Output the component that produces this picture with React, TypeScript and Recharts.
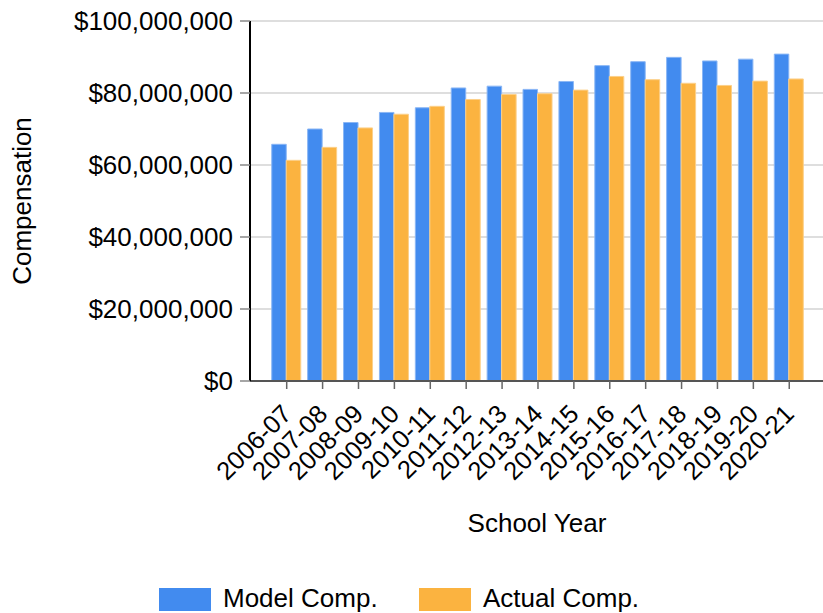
import { BarChart, Bar, XAxis, YAxis, CartesianGrid, Legend, Label } from "recharts"

const years = [
  "2006-07", "2007-08", "2008-09", "2009-10", "2010-11", "2011-12", "2012-13", "2013-14",
  "2014-15", "2015-16", "2016-17", "2017-18", "2018-19", "2019-20", "2020-21",
]
const modelComp = [
  65750000, 70000000, 71800000, 74600000, 75900000, 81400000, 81900000, 81000000,
  83200000, 87600000, 88700000, 89900000, 88900000, 89400000, 90800000,
]
const actualComp = [
  61300000, 64900000, 70300000, 74100000, 76300000, 78200000, 79600000, 79800000,
  80800000, 84600000, 83700000, 82700000, 82100000, 83300000, 83900000,
]
const seriesNames = ["Model Comp.", "Actual Comp."]
const yTicks = [0, 20000000, 40000000, 60000000, 80000000, 100000000]

const data = years.map((year, i) => ({ year, model: modelComp[i], actual: actualComp[i] }))

const FONT = "'Liberation Sans', Arial, sans-serif"
const BLUE = "#428bef"
const ORANGE = "#fbb340"

const money = (v: number) => "$" + v.toLocaleString("en-US")

function XTick({ x, payload }: any) {
  return (
    <text
      transform={`translate(${x},409) rotate(-45)`}
      textAnchor="end"
      dy="0.355em"
      fontSize={25.5}
      fontFamily={FONT}
      fill="#000"
    >
      {payload.value}
    </text>
  )
}

function LegendBox({ payload }: any) {
  const xs = [159, 419]
  // keep series order (recharts sorts legend items by name)
  const items = seriesNames.map((n) => (payload || []).find((p: any) => p.value === n)).filter(Boolean)
  return (
    <svg width={823} height={40} style={{ display: "block" }}>
      {items.map((p: any, i: number) => (
        <g key={p.value}>
          <rect x={xs[i]} y={15} width={52} height={23} fill={p.color} />
          <text x={xs[i] + 64} y={34} fontSize={26} fontFamily={FONT} fill="#000">
            {p.value}
          </text>
        </g>
      ))}
    </svg>
  )
}

export default function App() {
  return (
    <div style={{ width: 823, height: 613 }}>
      <style>{"body{margin:0}"}</style>
      <BarChart
        width={823}
        height={613}
        data={data}
        margin={{ top: 21, right: 0, left: 0, bottom: 0 }}
        barGap={0}
        barSize={14.5}
      >
        <CartesianGrid vertical={false} stroke="#dedede" strokeWidth={2} />
        <XAxis
          dataKey="year"
          interval={0}
          height={192}
          padding={{ left: 18.75, right: 15.8 }}
          tick={<XTick />}
          tickSize={8}
          axisLine={{ stroke: "#555", strokeWidth: 2 }}
          tickLine={{ stroke: "#666", strokeWidth: 1.5 }}
        >
          <Label
            content={() => (
              <text x={537} y={532} textAnchor="middle" fontSize={26} fontFamily={FONT} fill="#000">
                School Year
              </text>
            )}
          />
        </XAxis>
        <YAxis
          width={250}
          domain={[0, 100000000]}
          ticks={yTicks}
          tickFormatter={money}
          tickSize={10}
          tickMargin={7}
          tick={{ fontSize: 26, fontFamily: FONT, fill: "#000" }}
          axisLine={{ stroke: "#000", strokeWidth: 2 }}
          tickLine={{ stroke: "#888", strokeWidth: 1.5 }}
        >
          <Label
            content={() => (
              <text
                x={31}
                y={201}
                transform="rotate(-90, 31, 201)"
                textAnchor="middle"
                fontSize={26}
                fontFamily={FONT}
                fill="#000"
              >
                Compensation
              </text>
            )}
          />
        </YAxis>
        <Legend verticalAlign="bottom" content={<LegendBox />} wrapperStyle={{ left: 0, width: 823, height: 40 }} />
        <Bar dataKey="model" name={seriesNames[0]} fill={BLUE} stroke="#8ab6f5" strokeWidth={1} isAnimationActive={false} />
        <Bar dataKey="actual" name={seriesNames[1]} fill={ORANGE} stroke="#fcd08a" strokeWidth={1} isAnimationActive={false} />
      </BarChart>
    </div>
  )
}
